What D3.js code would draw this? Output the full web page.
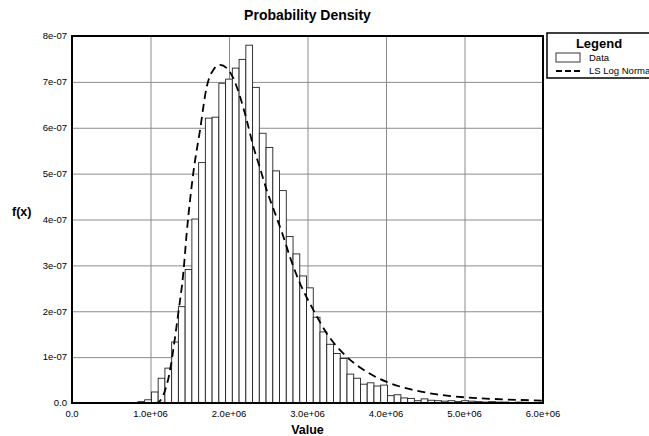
<!DOCTYPE html>
<html>
<head>
<meta charset="utf-8">
<script src="https://cdn.jsdelivr.net/npm/d3@7"></script>
<style>
  body { margin: 0; background: #fff; }
  svg text { font-family: "Liberation Sans", Arial, sans-serif; }
  .gridlines line { stroke: #8c8c8c; stroke-width: 1; }
  .gridlines path { display: none; }
</style>
</head>
<body>
<svg id="chart" width="649" height="436"></svg>
<script>
// histogram bins (density in units of 1e-7)
const binStart = 840000;
const binWidth = 85900;
const densities = [
  0.03, 0.07, 0.24, 0.54, 0.76, 1.33, 2.10, 2.91, 4.01, 5.24,
  6.21, 6.23, 6.97, 7.06, 7.30, 7.49, 7.80, 6.88, 5.88, 5.57,
  5.06, 4.63, 3.63, 3.25, 2.77, 2.51, 1.87, 1.55, 1.28, 1.08,
  0.97, 0.63, 0.54, 0.41, 0.44, 0.37, 0.39, 0.16, 0.18, 0.11,
  0.10, 0.05, 0.09, 0.06, 0.05, 0.04, 0.05, 0.03, 0.05, 0.04,
  0.03, 0.02, 0.03, 0.02, 0.02, 0.01, 0.02, 0.01, 0.01, 0.01
];

// fitted curve
const curveX = [1.05e6, 1.092e6, 1.163e6, 1.257e6, 1.29e6, 1.354e6, 1.418e6, 1.461e6, 1.545e6,
  1.631e6, 1.716e6, 1.8e6, 1.885e6, 1.971e6, 2.055e6, 2.14e6, 2.225e6, 2.31e6, 2.395e6,
  2.48e6, 2.586e6, 2.692e6, 2.777e6, 2.904e6, 3.074e6, 3.244e6, 3.499e6, 3.754e6, 4.009e6,
  4.306e6, 4.603e6, 5.028e6, 5.49e6, 6.0e6];
const curveY = [0, 0.01, 0.17, 0.79, 1.16, 1.96, 2.83, 3.70, 5.01,
  5.95, 6.89, 7.26, 7.37, 7.30, 7.08, 6.68, 6.17, 5.59, 5.12,
  4.64, 4.14, 3.63, 3.18, 2.61, 2.03, 1.52, 1.01, 0.68, 0.46,
  0.30, 0.20, 0.12, 0.08, 0.05];

const xTicks = [0, 1e6, 2e6, 3e6, 4e6, 5e6, 6e6];
const xTickLabels = ["0.0", "1.0e+06", "2.0e+06", "3.0e+06", "4.0e+06", "5.0e+06", "6.0e+06"];
const yTicks = [0, 1, 2, 3, 4, 5, 6, 7, 8];
const yTickLabels = ["0.0", "1e-07", "2e-07", "3e-07", "4e-07", "5e-07", "6e-07", "7e-07", "8e-07"];

const svg = d3.select("svg#chart");
const margins = { top: 36, left: 72, right: 106, bottom: 33 };
const width = +svg.attr("width");
const height = +svg.attr("height");
const chartWidth = width - margins.left - margins.right;
const chartHeight = height - margins.top - margins.bottom;

const xScale = d3.scaleLinear().domain([0, 6e6]).range([0, chartWidth]);
const yScale = d3.scaleLinear().domain([0, 8]).range([chartHeight, 0]);

const chart = svg.append("g")
  .attr("transform", `translate(${margins.left},${margins.top})`);

// gridlines
chart.append("g").attr("class", "gridlines")
  .call(d3.axisLeft(yScale).tickValues(yTicks).tickSize(-chartWidth).tickFormat(""));
chart.append("g").attr("class", "gridlines")
  .attr("transform", `translate(0,${chartHeight})`)
  .call(d3.axisBottom(xScale).tickValues(xTicks).tickSize(chartHeight).tickFormat(""))
  .attr("transform", "translate(0,0)");

// bars
chart.selectAll("rect.bar")
  .data(densities)
  .join("rect")
  .attr("class", "bar")
  .attr("x", (d, i) => xScale(binStart + i * binWidth))
  .attr("width", (d, i) => xScale(binStart + (i + 1) * binWidth) - xScale(binStart + i * binWidth))
  .attr("y", d => yScale(d))
  .attr("height", d => chartHeight - yScale(d))
  .attr("fill", "#fff")
  .attr("stroke", "#222")
  .attr("stroke-width", 0.9);

// fitted curve
const line = d3.line()
  .x((d, i) => xScale(curveX[i]))
  .y(d => yScale(d))
  .curve(d3.curveMonotoneX);

chart.append("path")
  .datum(curveY)
  .attr("d", line)
  .attr("fill", "none")
  .attr("stroke", "#000")
  .attr("stroke-width", 1.8)
  .attr("stroke-dasharray", "8,5");

// frame
chart.append("rect")
  .attr("width", chartWidth)
  .attr("height", chartHeight)
  .attr("fill", "none")
  .attr("stroke", "#000")
  .attr("stroke-width", 2);

// tick labels
chart.selectAll("text.ytick")
  .data(yTicks)
  .join("text")
  .attr("class", "ytick")
  .attr("x", -5)
  .attr("y", d => yScale(d))
  .attr("dy", "0.35em")
  .attr("text-anchor", "end")
  .attr("font-size", 9.5)
  .text((d, i) => yTickLabels[i]);

chart.selectAll("text.xtick")
  .data(xTicks)
  .join("text")
  .attr("class", "xtick")
  .attr("x", d => xScale(d))
  .attr("y", chartHeight + 14)
  .attr("text-anchor", "middle")
  .attr("font-size", 9.5)
  .text((d, i) => xTickLabels[i]);

// titles
svg.append("text")
  .attr("x", margins.left + chartWidth / 2)
  .attr("y", 20)
  .attr("text-anchor", "middle")
  .attr("font-size", 14)
  .attr("font-weight", "bold")
  .text("Probability Density");

svg.append("text")
  .attr("x", margins.left + chartWidth / 2)
  .attr("y", 434)
  .attr("text-anchor", "middle")
  .attr("font-size", 12.5)
  .attr("font-weight", "bold")
  .text("Value");

svg.append("text")
  .attr("x", 12)
  .attr("y", 216)
  .attr("font-size", 12.5)
  .attr("font-weight", "bold")
  .text("f(x)");

// legend
const legend = svg.append("g").attr("transform", "translate(547,33)");
legend.append("rect")
  .attr("width", 110)
  .attr("height", 45)
  .attr("fill", "#fff")
  .attr("stroke", "#000")
  .attr("stroke-width", 1.5);
legend.append("text")
  .attr("x", 52)
  .attr("y", 15)
  .attr("text-anchor", "middle")
  .attr("font-size", 13)
  .attr("font-weight", "bold")
  .text("Legend");
legend.append("rect")
  .attr("x", 9)
  .attr("y", 20)
  .attr("width", 24)
  .attr("height", 9)
  .attr("fill", "#fff")
  .attr("stroke", "#222")
  .attr("stroke-width", 0.9);
legend.append("text")
  .attr("x", 42)
  .attr("y", 28)
  .attr("font-size", 9.5)
  .text("Data");
legend.append("line")
  .attr("x1", 9).attr("x2", 33)
  .attr("y1", 38).attr("y2", 38)
  .attr("stroke", "#000")
  .attr("stroke-width", 1.8)
  .attr("stroke-dasharray", "6,3");
legend.append("text")
  .attr("x", 42)
  .attr("y", 41)
  .attr("font-size", 9.5)
  .text("LS Log Normal");
</script>
</body>
</html>
